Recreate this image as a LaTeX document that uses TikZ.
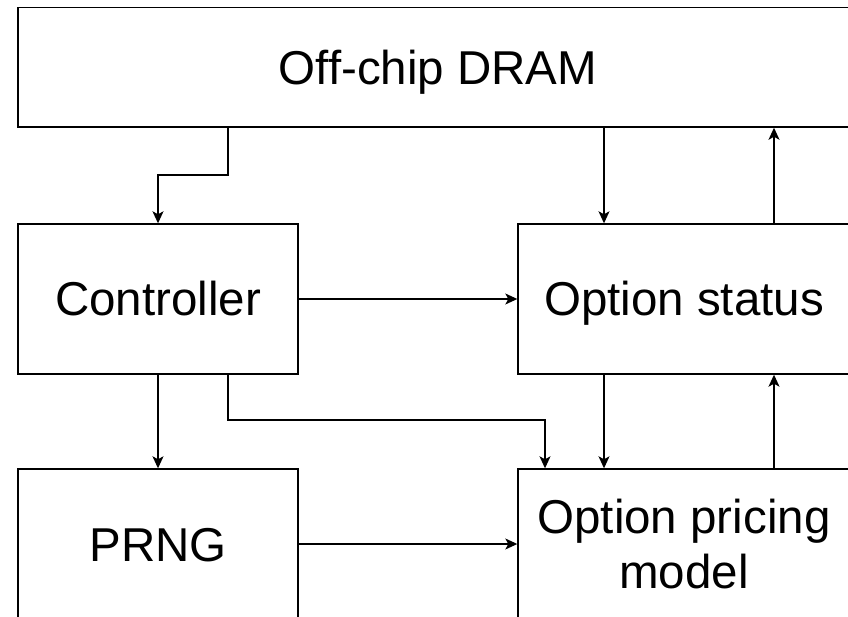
\documentclass[tikz,border=0pt]{standalone}
\usepackage{fontspec}
\setmainfont{Liberation Sans}
\usetikzlibrary{arrows.meta}
\begin{document}
\begin{tikzpicture}[x=1pt, y=-1pt,
  box/.style={draw, line width=1.4pt, inner sep=0pt,
    font=\fontsize{47.5}{55}\selectfont, text height=34pt, text depth=0pt},
  box2/.style={draw, line width=1.4pt, inner sep=0pt, align=center,
    font=\fontsize{47.5}{55}\selectfont},
  conn/.style={line width=1.3pt, -{Stealth[length=12pt, width=11pt, inset=3pt]}}]
  \useasboundingbox (0,0) rectangle (848,617);
  \clip (0,0) rectangle (848,617);

  % blocks
  \node[box, minimum width=840pt, minimum height=119.5pt] (dram) at (438,67.3) {Off-chip DRAM};
  \node[box, minimum width=280pt, minimum height=150pt] (ctrl) at (158,299) {Controller};
  \node[box, minimum width=332pt, minimum height=150pt] (status) at (684,299) {Option status};
  \node[box, minimum width=280pt, minimum height=150pt] (prng) at (158,544) {PRNG};
  \node[box2, minimum width=332pt, minimum height=150pt] (pricing) at (684,544) {Option pricing\\model};

  % vertical lanes of the connectors
  \coordinate (xa) at (228,0);
  \coordinate (xb) at (604,0);
  \coordinate (xc) at (774,0);
  \coordinate (k1) at (158,175);
  \coordinate (k2) at (545,420);

  % connectors
  \draw[conn] (dram.south -| xa) |- (k1) -- (ctrl.north);
  \draw[conn] (dram.south -| xb) -- (status.north -| xb);
  \draw[conn] (status.north -| xc) -- (dram.south -| xc);
  \draw[conn] (ctrl.east) -- (status.west);
  \draw[conn] (ctrl.south) -- (prng.north);
  \draw[conn] (ctrl.south -| xa) |- (k2) -- (pricing.north -| k2);
  \draw[conn] (status.south -| xb) -- (pricing.north -| xb);
  \draw[conn] (pricing.north -| xc) -- (status.south -| xc);
  \draw[conn] (prng.east) -- (pricing.west);
\end{tikzpicture}
\end{document}
